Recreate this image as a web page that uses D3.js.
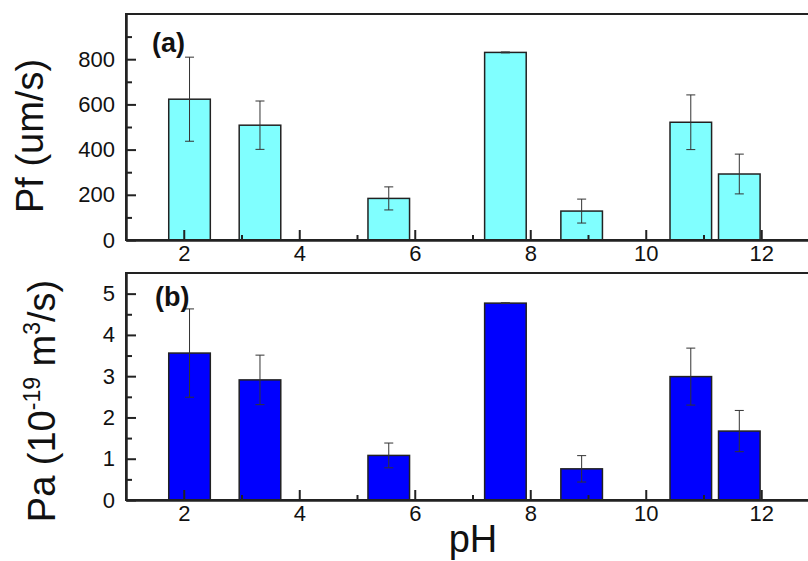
<!DOCTYPE html>
<html>
<head>
<meta charset="utf-8">
<script src="https://cdn.jsdelivr.net/npm/d3@7"></script>
<style>
  body { margin: 0; background: #fff; }
  svg { font-family: "Liberation Sans", Arial, sans-serif; display: block; }
</style>
</head>
<body>
<div class="graph-section"></div>
<script>
// pH positions of the bars
var phValues = [2.1, 3.32, 5.55, 7.57, 8.89, 10.78, 11.62];
// panel (a) Pf (um/s)
var pfValues = [623, 508, 184, 830, 128, 521, 292];
var pfErrors = [186, 107, 51, 2, 53, 121, 88];
// panel (b) Pa (10^-19 m^3/s)
var paValues = [3.56, 2.91, 1.08, 4.77, 0.755, 2.99, 1.67];
var paErrors = [1.07, 0.6, 0.3, 0.01, 0.32, 0.69, 0.5];

var xTicks = [2, 4, 6, 8, 10, 12];
var xMinor = [3, 5, 7, 9, 11];
var pfTicks = [0, 200, 400, 600, 800];
var pfMinor = [100, 300, 500, 700, 900];
var paTicks = [0, 1, 2, 3, 4, 5];
var paMinor = [0.5, 1.5, 2.5, 3.5, 4.5];

var screen = {width: 808, height: 561};
var barWidth = 0.72; // in pH units

var svg = d3.select(".graph-section")
  .append("svg")
  .attr("width", screen.width)
  .attr("height", screen.height);

var xScale = d3.scaleLinear()
  .domain([1, 13])
  .range([126, 819]);

var drawPanel = function(cfg){
  var yScale = d3.scaleLinear()
    .domain(cfg.domain)
    .range([cfg.bottom, cfg.top]);

  var rows = phValues.map(function(p, i){
    return {ph: p, v: cfg.values[i], e: cfg.errors[i]};
  });

  var g = svg.append("g");

  // bars
  g.selectAll("rect.bar")
    .data(rows)
    .enter()
    .append("rect")
    .classed("bar", true)
    .attr("x", function(d){ return xScale(d.ph - barWidth / 2); })
    .attr("y", function(d){ return yScale(d.v); })
    .attr("width", function(d){ return xScale(d.ph + barWidth / 2) - xScale(d.ph - barWidth / 2); })
    .attr("height", function(d){ return yScale(0) - yScale(d.v); })
    .attr("fill", cfg.color)
    .attr("stroke", "#222")
    .attr("stroke-width", 1.5);

  // error bars
  var err = g.selectAll("g.err")
    .data(rows)
    .enter()
    .append("g")
    .classed("err", true)
    .attr("stroke", "#333")
    .attr("stroke-width", 1);

  err.append("line")
    .attr("x1", function(d){ return xScale(d.ph); })
    .attr("x2", function(d){ return xScale(d.ph); })
    .attr("y1", function(d){ return yScale(d.v + d.e); })
    .attr("y2", function(d){ return yScale(d.v - d.e); });

  [1, -1].forEach(function(s){
    err.append("line")
      .attr("x1", function(d){ return xScale(d.ph) - 4.5; })
      .attr("x2", function(d){ return xScale(d.ph) + 4.5; })
      .attr("y1", function(d){ return yScale(d.v + s * d.e); })
      .attr("y2", function(d){ return yScale(d.v + s * d.e); });
  });

  // frame
  g.append("rect")
    .attr("x", xScale.range()[0])
    .attr("y", cfg.top)
    .attr("width", xScale.range()[1] - xScale.range()[0])
    .attr("height", cfg.bottom - cfg.top)
    .attr("fill", "none")
    .attr("stroke", "#222")
    .attr("stroke-width", 2);

  // x axis, ticks pointing inward
  g.append("g")
    .attr("transform", "translate(0," + cfg.bottom + ")")
    .call(d3.axisBottom(xScale).tickValues(xTicks).tickSizeInner(-10).tickSizeOuter(0).tickPadding(5));
  g.append("g")
    .attr("transform", "translate(0," + cfg.bottom + ")")
    .call(d3.axisBottom(xScale).tickValues(xMinor).tickSizeInner(-5).tickSizeOuter(0).tickFormat(""));

  // y axis
  g.append("g")
    .attr("transform", "translate(" + xScale.range()[0] + ",0)")
    .call(d3.axisLeft(yScale).tickValues(cfg.ticks).tickSizeInner(-10).tickSizeOuter(0).tickPadding(11).tickFormat(d3.format("d")));
  g.append("g")
    .attr("transform", "translate(" + xScale.range()[0] + ",0)")
    .call(d3.axisLeft(yScale).tickValues(cfg.minor).tickSizeInner(-6).tickSizeOuter(0).tickFormat(""));

  g.selectAll(".domain").attr("stroke", "#222").attr("stroke-width", 2);
  g.selectAll(".tick line").attr("stroke", "#222").attr("stroke-width", 2);
  g.selectAll(".tick text")
    .attr("font-size", 22)
    .attr("font-family", "Liberation Sans, Arial, sans-serif")
    .attr("fill", "#111");

  // panel tag
  g.append("text")
    .attr("x", cfg.tagX)
    .attr("y", cfg.tagY)
    .attr("font-size", 27)
    .attr("font-weight", "bold")
    .attr("fill", "#111")
    .text(cfg.tag);

  return g;
};

drawPanel({
  domain: [0, 1000], top: 14, bottom: 240,
  values: pfValues, errors: pfErrors,
  ticks: pfTicks, minor: pfMinor,
  color: "#80ffff", tag: "(a)", tagX: 152, tagY: 52
});

drawPanel({
  domain: [0, 5.5], top: 273, bottom: 500,
  values: paValues, errors: paErrors,
  ticks: paTicks, minor: paMinor,
  color: "#0000ff", tag: "(b)", tagX: 155, tagY: 306
});

// axis titles
svg.append("text")
  .attr("transform", "translate(43,136) rotate(-90)")
  .attr("text-anchor", "middle")
  .attr("font-size", 38)
  .attr("fill", "#111")
  .text("Pf (um/s)");

var paLabel = svg.append("text")
  .attr("transform", "translate(55,401) rotate(-90)")
  .attr("text-anchor", "middle")
  .attr("font-size", 38)
  .attr("fill", "#111");
paLabel.append("tspan").text("Pa (10");
paLabel.append("tspan").attr("font-size", 23).attr("dy", -15).text("-19");
paLabel.append("tspan").attr("dy", 15).text(" m");
paLabel.append("tspan").attr("font-size", 23).attr("dy", -15).text("3");
paLabel.append("tspan").attr("dy", 15).text("/s)");

svg.append("text")
  .attr("x", 473)
  .attr("y", 552)
  .attr("text-anchor", "middle")
  .attr("font-size", 38)
  .attr("fill", "#111")
  .text("pH");
</script>
</body>
</html>
